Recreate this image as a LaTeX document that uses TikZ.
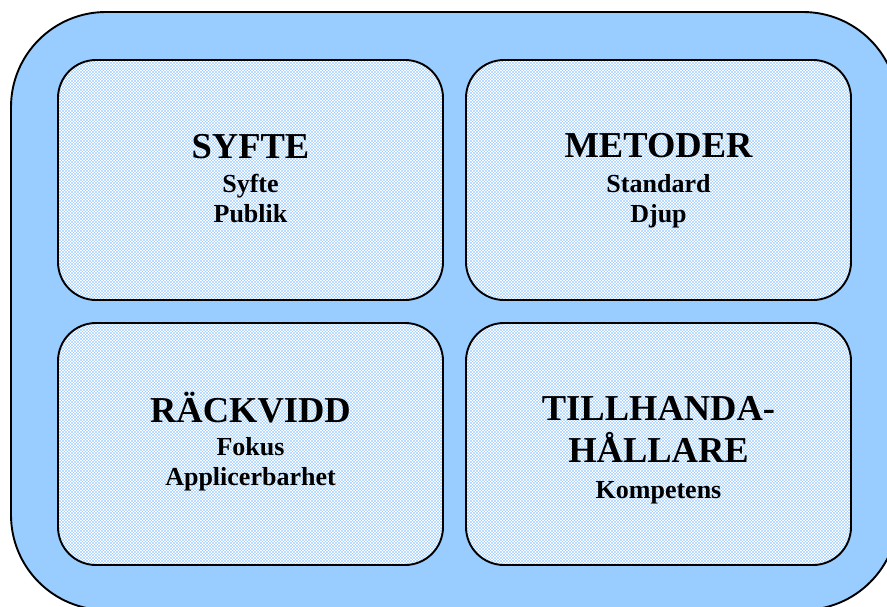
\documentclass[tikz,border=0pt]{standalone}
\usepackage{fontspec}
\setmainfont{Liberation Serif}
\usetikzlibrary{patterns}
\definecolor{frameblue}{RGB}{153,204,255}
% staggered grid of light dots, 3pt apart
\pgfdeclarepatternformonly{paneldots}{\pgfpoint{-1pt}{-1pt}}{\pgfpoint{4pt}{4pt}}{\pgfpoint{3pt}{3pt}}{%
  \pgfpathcircle{\pgfpoint{0pt}{0pt}}{0.68pt}
  \pgfpathcircle{\pgfpoint{3pt}{0pt}}{0.68pt}
  \pgfpathcircle{\pgfpoint{0pt}{3pt}}{0.68pt}
  \pgfpathcircle{\pgfpoint{3pt}{3pt}}{0.68pt}
  \pgfpathcircle{\pgfpoint{1.5pt}{1.5pt}}{0.68pt}
  \pgfusepath{fill}}
\tikzset{
  panel/.style={fill=white, rounded corners=38pt,
    postaction={pattern=paneldots, pattern color=frameblue},
    postaction={draw=black, line width=1.9pt}},
  title/.style={anchor=base, inner sep=0pt, font=\fontsize{36.5}{42}\selectfont\bfseries},
  item/.style={anchor=base, inner sep=0pt, font=\fontsize{26}{30}\selectfont\bfseries}
}
\begin{document}
\begin{tikzpicture}[x=1pt, y=-1pt]
\useasboundingbox (0,0) rectangle (887,606);
% outer frame, running past the right and bottom edges
\draw[fill=frameblue, line width=1.9pt, rounded corners=95pt] (11,12) rectangle (898,610);
% four panels
\path[panel] (58,60) rectangle (443,300) coordinate (p1);
\path[panel] (466,60) rectangle (851,300) coordinate (p2);
\path[panel] (58,323) rectangle (443,565) coordinate (p3);
\path[panel] (466,323) rectangle (851,565) coordinate (p4);
% SYFTE
\node[title] (t1) at (250.5,158) {SYFTE};
\node[item] (s1a) at (250.5,192) {Syfte};
\node[item] (s1b) at (250.5,222) {Publik};
% METODER
\node[title] (t2) at (658.5,157) {METODER};
\node[item] (s2a) at (658.5,192) {Standard};
\node[item] (s2b) at (658.5,222) {Djup};
% RÄCKVIDD
\node[title] (t3) at (250.5,422) {RÄCKVIDD};
\node[item] (s3a) at (250.5,455) {Fokus};
\node[item] (s3b) at (250.5,485) {Applicerbarhet};
% TILLHANDAHÅLLARE
\node[title] (t4) at (658.5,420) {TILLHANDA-};
\node[title] (t4b) at (658.5,462) {HÅLLARE};
\node[item] (s4a) at (658.5,498) {Kompetens};
\end{tikzpicture}
\end{document}
